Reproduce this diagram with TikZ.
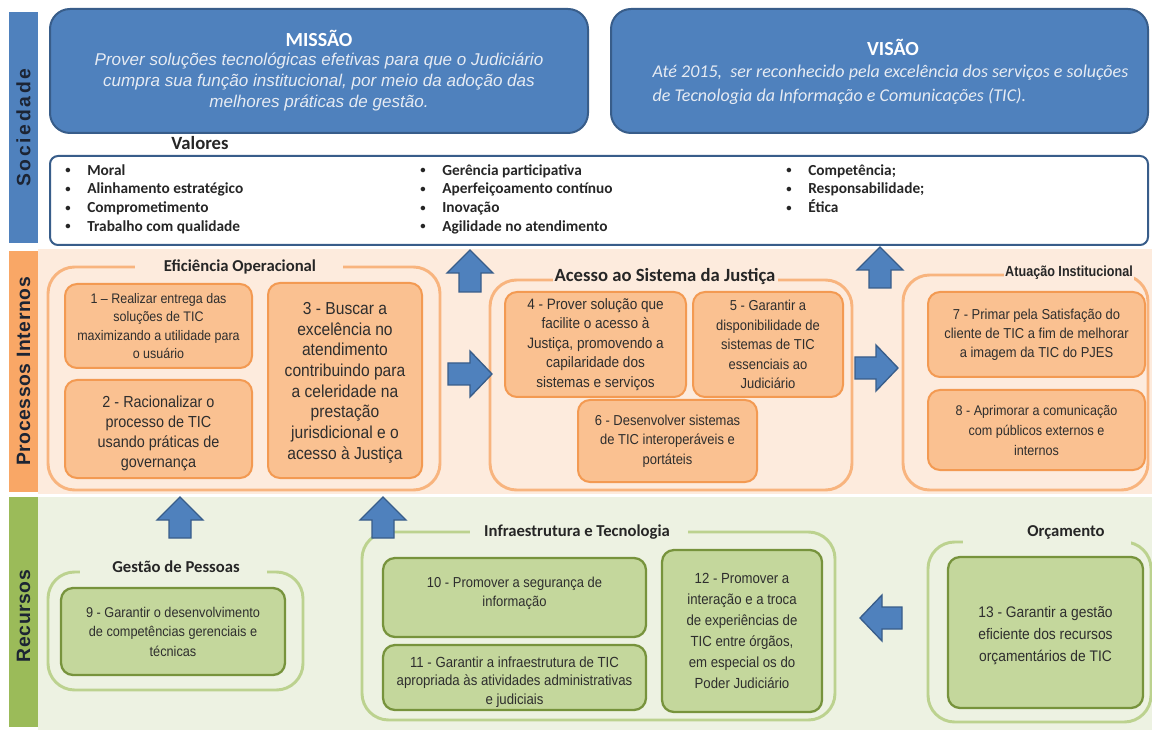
\documentclass[tikz,border=0pt]{standalone}
\usepackage{fontspec}
\setmainfont{Carlito}
\newfontfamily\arialf{Liberation Sans}
\newfontfamily\sidef[LetterSpace=3]{Liberation Sans}
\newfontfamily\sidewf[LetterSpace=14]{Liberation Sans}
\newfontfamily\narrowf[FakeStretch=0.9]{Liberation Sans}
\newfontfamily\narrowbf[FakeStretch=0.86]{Liberation Sans Bold}
\usetikzlibrary{fit}
\definecolor{blueF}{HTML}{4F81BD}
\definecolor{blueB}{HTML}{385D8A}
\definecolor{orgBar}{HTML}{F9A766}
\definecolor{orgBg}{HTML}{FDEBDD}
\definecolor{orgG}{HTML}{F8B47E}
\definecolor{orgF}{HTML}{FAC191}
\definecolor{orgB}{HTML}{F39A52}
\definecolor{grnBar}{HTML}{9BBB59}
\definecolor{grnBg}{HTML}{EDF2E2}
\definecolor{grnG}{HTML}{BCD28F}
\definecolor{grnF}{HTML}{C4D79C}
\definecolor{grnB}{HTML}{77933C}
\definecolor{txt}{HTML}{2E2E2E}
\definecolor{misTxt}{HTML}{E6EBF3}
\definecolor{sideTxt}{HTML}{1C2433}
\newcommand\UpArr[3]{\draw[barrow] (#1,#2) -- (#1+23,#2+23) -- (#1+11,#2+23) -- (#1+11,#3) -- (#1-11,#3) -- (#1-11,#2+23) -- (#1-23,#2+23) -- cycle;}
\newcommand\RtArr[3]{\draw[barrow] (#2,#3) -- (#2-22,#3-23) -- (#2-22,#3-11) -- (#1,#3-11) -- (#1,#3+11) -- (#2-22,#3+11) -- (#2-22,#3+23) -- cycle;}
\newcommand\LfArr[3]{\draw[barrow] (#2,#3) -- (#2+22,#3-23) -- (#2+22,#3-11) -- (#1,#3-11) -- (#1,#3+11) -- (#2+22,#3+11) -- (#2+22,#3+23) -- cycle;}
\newcommand\BoxFont[2]{\narrowf\fontsize{#1}{#2}\selectfont}
\newcommand\Bul{\makebox[16.5pt][l]{\raisebox{1pt}{\fontsize{8}{8}\selectfont\textbullet}}}
\begin{document}
\begin{tikzpicture}[x=0.75pt,y=-0.75pt,
 obox/.style={draw=orgB, fill=orgF, line width=1.5pt, rounded corners=9pt, inner sep=0pt},
 gbox/.style={draw=grnB, fill=grnF, line width=1.7pt, rounded corners=9pt, inner sep=0pt},
 ogrp/.style={draw=orgG, line width=2.2pt, rounded corners=20pt, inner sep=0pt},
 ggrp/.style={draw=grnG, line width=2.2pt, rounded corners=20pt, inner sep=0pt},
 btxt/.style={text=txt, align=center, inner sep=0pt},
 gtitle/.style={font=\bfseries\fontsize{12.5}{14}\selectfont, text=black!85, inner sep=1pt},
 barrow/.style={fill=blueF, draw=blueB, line width=1pt, line join=miter},
 sidetxt/.style={rotate=90, text=sideTxt, font=\sidef\bfseries\fontsize{14.5}{18}\selectfont}
]
\useasboundingbox (0,0) rectangle (1152,730);
\fill[white] (0,0) rectangle (1152,730);
% ---------- section backgrounds and side bars
\fill[orgBg] (38,249) rectangle (1152,494);
\fill[grnBg] (38,497) rectangle (1152,730);
\node[fill=blueF, inner sep=0pt, fit={(9,12) (38,243)}] (sb1) {};
\node[sidetxt, font=\sidewf\bfseries\fontsize{14.5}{18}\selectfont] (sb1t) at (sb1) {Sociedade};
\node[fill=orgBar, inner sep=0pt, fit={(9,251) (38,492)}] (sb2) {};
\node[sidetxt] (sb2t) at (sb2) {Processos Internos};
\node[fill=grnBar, inner sep=0pt, fit={(9,497) (38,727)}] (sb3) {};
\node[sidetxt] (sb3t) at ([yshift=-3pt]sb3.center) {Recursos};
% ---------- mission / vision
\node[fill=blueF, draw=blueB, line width=1.5pt, rounded corners=15pt, inner sep=0pt, fit={(50,9) (588,133)}] (mis) {};
\node[text=white, font=\bfseries\fontsize{15}{18}\selectfont] (misT) at (319,38) {MISSÃO};
\node[text=misTxt, font=\arialf\itshape\fontsize{12.8}{16}\selectfont, align=center] (misX) at (319,82)
 {Prover soluções tecnológicas efetivas para que o Judiciário\\cumpra sua função institucional, por meio da adoção das\\melhores práticas de gestão.};
\node[fill=blueF, draw=blueB, line width=1.5pt, rounded corners=15pt, inner sep=0pt, fit={(611,9) (1148,133)}] (vis) {};
\node[text=white, font=\bfseries\fontsize{15}{18}\selectfont] (visT) at (893,47) {VISÃO};
\node[text=misTxt, font=\itshape\fontsize{13.5}{18}\selectfont, align=left, anchor=west] (visX) at (648,85)
 {Até 2015,\ \ ser reconhecido pela excelência dos serviços e soluções\\de Tecnologia da Informação e Comunicações (TIC).};
% ---------- valores
\node[font=\bfseries\fontsize{14}{16}\selectfont, text=black!85] (valT) at (200,143) {Valores};
\node[draw=blueB, fill=white, line width=1.5pt, rounded corners=6pt, inner sep=0pt, fit={(50,156) (1148,245)}] (val) {};
\node[anchor=north west, align=left, inner sep=0pt, font=\bfseries\fontsize{11.5}{14}\selectfont, text=black!85] (v1) at (65,164)
 {\Bul Moral\\\Bul Alinhamento estratégico\\\Bul Comprometimento\\\Bul Trabalho com qualidade};
\node[anchor=north west, align=left, inner sep=0pt, font=\bfseries\fontsize{11.5}{14}\selectfont, text=black!85] (v2) at (420,164)
 {\Bul Gerência participativa\\\Bul Aperfeiçoamento contínuo\\\Bul Inovação\\\Bul Agilidade no atendimento};
\node[anchor=north west, align=left, inner sep=0pt, font=\bfseries\fontsize{11.5}{14}\selectfont, text=black!85] (v3) at (786,164)
 {\Bul Competência;\\\Bul Responsabilidade;\\\Bul Ética};
% ---------- Processos internos: groups
\node[ogrp, fit={(48,267) (440,490)}] (gEf) {};
\fill[orgBg] (135,260) rectangle (343,275);
\node[gtitle] (gEfT) at (240,267) {Eficiência Operacional};
\node[ogrp, fit={(490,280) (852,490)}] (gAc) {};
\fill[orgBg] (553,272) rectangle (778,288);
\node[gtitle, font=\bfseries\fontsize{14}{16}\selectfont] (gAcT) at (665,277) {Acesso ao Sistema da Justiça};
\node[ogrp, fit={(903,275) (1148,490)}] (gAt) {};
\fill[orgBg] (1004,267) rectangle (1134,283);
\node[gtitle, font=\narrowbf\fontsize{11}{13}\selectfont] (gAtT) at (1069,273) {Atuação Institucional};
% boxes
\node[obox, fit={(65,284) (252,368)}] (b1) {};
\node[btxt, font=\BoxFont{10.4}{13.9}] (t1) at (b1) {1 – Realizar entrega das\\soluções de TIC\\maximizando a utilidade para\\o usuário};
\node[obox, fit={(65,380) (252,478)}] (b2) {};
\node[btxt, font=\BoxFont{12}{15}] (t2) at ([yshift=-3pt]b2.center) {2 - Racionalizar o\\processo de TIC\\usando práticas de\\governança};
\node[obox, fit={(268,283) (422,478)}] (b3) {};
\node[btxt, font=\BoxFont{13}{15.5}] (t3) at ([yshift=-1.5pt]b3.center) {3 - Buscar a\\excelência no\\atendimento\\contribuindo para\\a celeridade na\\prestação\\jurisdicional e o\\acesso à Justiça};
\node[obox, fit={(505,292) (686,397)}] (b4) {};
\node[btxt, font=\BoxFont{11.3}{14.6}] (t4) at (b4) {4 - Prover solução que\\facilite o acesso à\\Justiça, promovendo a\\capilaridade dos\\sistemas e serviços};
\node[obox, fit={(693,292) (843,397)}] (b5) {};
\node[btxt, font=\BoxFont{10.8}{14.6}] (t5) at (b5) {5 - Garantir a\\disponibilidade de\\sistemas de TIC\\essenciais ao\\Judiciário};
\node[obox, fit={(578,400) (757,482)}] (b6) {};
\node[btxt, font=\BoxFont{10.8}{14.6}] (t6) at (b6) {6 - Desenvolver sistemas\\de TIC interoperáveis e\\portáteis};
\node[obox, fit={(928,292) (1145,377)}] (b7) {};
\node[btxt, font=\BoxFont{10.8}{14.3}] (t7) at (b7) {7 - Primar pela Satisfação do\\cliente de TIC a fim de melhorar\\a imagem da TIC do PJES};
\node[obox, fit={(928,390) (1145,470)}] (b8) {};
\node[btxt, font=\BoxFont{10.5}{15}] (t8) at (b8) {8 - Aprimorar a comunicação\\com públicos externos e\\internos};
% ---------- Recursos: groups
\node[ggrp, fit={(48,572) (303,690)}] (gGe) {};
\fill[grnBg] (80,564) rectangle (267,580);
\node[gtitle] (gGeT) at (176,567) {Gestão de Pessoas};
\node[ggrp, fit={(362,532) (835,720)}] (gIn) {};
\fill[grnBg] (470,524) rectangle (688,540);
\node[gtitle] (gInT) at (577,532) {Infraestrutura e Tecnologia};
\node[ggrp, fit={(928,542) (1151,722)}] (gOr) {};
\fill[grnBg] (963,535) rectangle (1131,549);
\node[gtitle] (gOrT) at (1066,532) {Orçamento};
% boxes
\node[gbox, fit={(61,588) (285,675)}] (b9) {};
\node[btxt, font=\BoxFont{10.6}{14.6}] (t9) at (b9) {9 - Garantir o desenvolvimento\\de competências gerenciais e\\técnicas};
\node[gbox, fit={(383,558) (646,637)}] (b10) {};
\node[btxt, font=\BoxFont{10.8}{14.3}] (t10) at ([yshift=3pt]b10.center) {10 - Promover a segurança de\\informação};
\node[gbox, fit={(383,645) (646,710)}] (b11) {};
\node[btxt, font=\BoxFont{11}{13.9}] (t11) at ([yshift=-3.5pt]b11.center) {11 - Garantir a infraestrutura de TIC\\apropriada às atividades administrativas\\e judiciais};
\node[gbox, fit={(662,550) (822,712)}] (b12) {};
\node[btxt, font=\BoxFont{11}{15.7}] (t12) at (b12) {12 - Promover a\\interação e a troca\\de experiências de\\TIC entre órgãos,\\em especial os do\\Poder Judiciário};
\node[gbox, fit={(948,557) (1143,708)}] (b13) {};
\node[btxt, font=\BoxFont{11.5}{16.5}] (t13) at ([yshift=-2.5pt]b13.center) {13 - Garantir a gestão\\eficiente dos recursos\\orçamentários de TIC};
% ---------- block arrows
\UpArr{470}{250}{292}
\UpArr{880}{247}{288}
\UpArr{180}{497}{538}
\UpArr{383}{497}{538}
\RtArr{448}{492}{374}
\RtArr{855}{898}{368}
\LfArr{902}{860}{618}
\end{tikzpicture}
\end{document}
